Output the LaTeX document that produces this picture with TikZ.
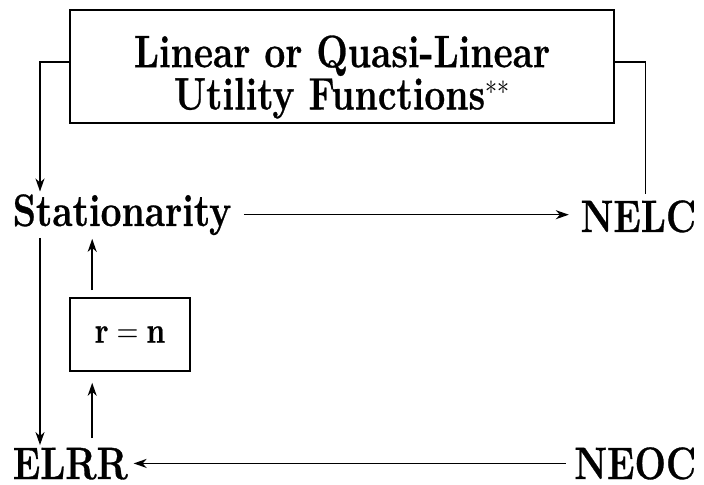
\documentclass[tikz,border=0pt]{standalone}
\usepackage{fontspec}
\setmainfont{Latin Modern Roman}[BoldFeatures={FakeBold=0.7}]
\usetikzlibrary{arrows.meta}
\newcommand{\tall}[1]{\scalebox{1}[1.22]{#1}}
\begin{document}
\begin{tikzpicture}[x=0.5pt, y=-0.5pt, line width=0.8pt,
  >={Stealth[length=6.5pt, width=4.5pt, inset=2pt]},
  lbl/.style={font=\fontsize{18.6}{20}\selectfont\bfseries, inner xsep=0pt, inner ysep=1pt},
  frame/.style={draw, line width=0.8pt}]
\useasboundingbox (0,0) rectangle (704,485);
% boxes
\node[frame, minimum width=272pt, minimum height=56.5pt] (ufun) at (342,66.5) {};
\node[lbl, align=center] (ufuntxt) at (342,77) {\tall{Linear or Quasi-Linear}\\\tall{Utility Functions$^{**}$}};
\node[frame, font=\fontsize{15}{18}\selectfont, minimum width=60pt, minimum height=36.5pt] (rn) at (130,334.5) {\tall{$\mathbf{r}=\mathbf{n}$}};
% labels
\node[lbl, anchor=base west] (stat) at (12,226) {\tall{Stationarity}};
\node[lbl, anchor=base east] (nelc) at (697,232) {\tall{NELC}};
\node[lbl, anchor=base west] (elrr) at (12,479) {\tall{ELRR}};
\node[lbl, anchor=base east] (neoc) at (697,479) {\tall{NEOC}};
% connectors
\draw[->] ([yshift=2.25pt]ufun.west) -| ([xshift=14pt]stat.north west);
\draw ([yshift=2.25pt]ufun.east) -| ([shift={(3.5pt,2pt)}]nelc.north);
\draw[->, shorten <=6pt, shorten >=5.5pt] (stat.east) -- (stat.east -| nelc.west);
\draw[->] ([xshift=14pt]stat.south west) -- ([xshift=14pt]elrr.north west);
\draw[->, shorten <=3.5pt, shorten >=0.5pt] ([xshift=11.5pt]rn.north west) -- ([xshift=11.5pt]rn.north west |- stat.south);
\draw[->, shorten <=3.5pt, shorten >=5.5pt] ([xshift=11.5pt]rn.south west |- elrr.north) -- ([xshift=11.5pt]rn.south west);
\draw[->, shorten <=4pt, shorten >=2.5pt] (neoc.west) -- (neoc.west -| elrr.east);
\end{tikzpicture}
\end{document}
